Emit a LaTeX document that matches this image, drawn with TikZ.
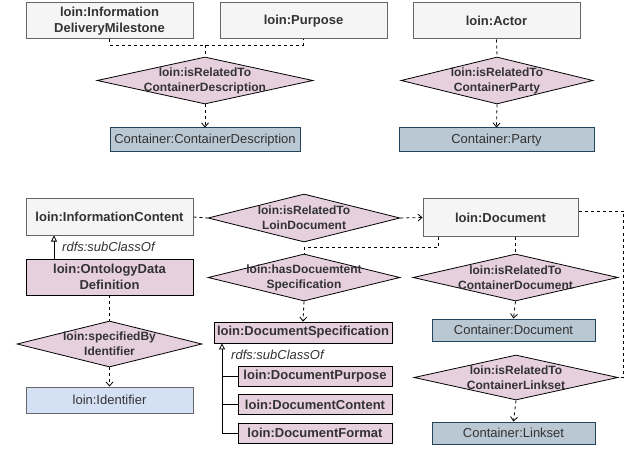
\documentclass[tikz,border=0pt]{standalone}
\usepackage{fontspec}
\setmainfont{Liberation Sans}
\usetikzlibrary{shapes.geometric,arrows.meta}
\definecolor{grayfill}{HTML}{F5F5F5}
\definecolor{graydraw}{HTML}{666666}
\definecolor{pinkfill}{HTML}{E6D0DE}
\definecolor{bluefill}{HTML}{BAC8D3}
\definecolor{bluedraw}{HTML}{23445D}
\definecolor{lbluefill}{HTML}{D4E1F5}
\definecolor{txt}{HTML}{333333}
\begin{document}
\begin{tikzpicture}[x=1pt,y=-1pt,
 base/.style={rectangle, inner sep=0pt, align=center, text=txt, font=\fontsize{13}{15}\selectfont},
 graybox/.style={base, fill=grayfill, draw=graydraw, line width=1pt, font=\fontsize{13}{16}\selectfont\bfseries},
 pinkbox/.style={base, fill=pinkfill, draw=black, line width=0.8pt, font=\fontsize{13}{16}\selectfont\bfseries},
 contbox/.style={base, fill=bluefill, draw=bluedraw, line width=1pt},
 idbox/.style={base, fill=lbluefill, draw=graydraw, line width=1pt},
 dia/.style={diamond, inner sep=0pt, fill=pinkfill, draw=black, line width=0.8pt},
 diatext/.style={inner sep=0pt, align=center, text=txt, font=\fontsize{12}{15}\selectfont\bfseries},
 rel/.style={draw=black, line width=0.8pt, dash pattern=on 3pt off 3pt},
 relarrow/.style={rel, -{Straight Barb[length=4pt,width=7pt]}},
 sub/.style={draw=black, line width=0.8pt},
 subarrow/.style={sub, -{Triangle[open,length=6pt,width=6pt]}},
 lbl/.style={inner sep=0pt, anchor=west, font=\fontsize{13}{15}\selectfont\itshape, text=txt}
]
\useasboundingbox (0,0) rectangle (629,449);

% ---- top row boxes
\node[graybox, minimum width=167pt, minimum height=36pt] (idm) at (109.5,21) {loin:Information\\DeliveryMilestone};
\node[graybox, minimum width=167pt, minimum height=36pt] (purpose) at (303.5,21) {loin:Purpose};
\node[graybox, minimum width=167pt, minimum height=36pt] (actor) at (496.5,21) {loin:Actor};

% ---- top diamonds
\node[dia, minimum width=216pt, minimum height=47pt] (d1) at (205,80.5) {};
\node[diatext] (d1t) at (d1.center) {loin:isRelatedTo\\ContainerDescription};
\node[dia, minimum width=192pt, minimum height=47pt] (d2) at (497,80.5) {};
\node[diatext] (d2t) at (d2.center) {loin:isRelatedTo\\ContainerParty};

% ---- container boxes top
\node[contbox, minimum width=190pt, minimum height=24pt] (ccd) at (205,140) {Container:ContainerDescription};
\node[contbox, minimum width=195pt, minimum height=24pt] (cparty) at (496.5,140) {Container:Party};

% ---- second part boxes
\node[graybox, minimum width=167pt, minimum height=36pt] (ic) at (109.5,217) {loin:InformationContent};
\node[graybox, minimum width=155pt, minimum height=37pt] (doc) at (500.5,217.5) {loin:Document};
\node[pinkbox, minimum width=167pt, minimum height=36pt] (odd) at (109.5,277) {loin:OntologyData\\Definition};
\node[idbox, minimum width=167pt, minimum height=26pt] (ident) at (109.5,400) {loin:Identifier};

\node[dia, minimum width=192pt, minimum height=48pt] (d3) at (304,218) {};
\node[diatext] (d3t) at (d3.center) {loin:isRelatedTo\\LoinDocument};
\node[dia, minimum width=192pt, minimum height=47pt] (d4) at (304,277.5) {};
\node[diatext] (d4t) at (d4.center) {loin:hasDocuemtent\\Specification};
\node[dia, minimum width=205pt, minimum height=47pt] (d5) at (515.5,277.5) {};
\node[diatext] (d5t) at (d5.center) {loin:isRelatedTo\\ContainerDocument};
\node[dia, minimum width=185pt, minimum height=46pt] (d6) at (109.5,344) {};
\node[diatext] (d6t) at (d6.center) {loin:specifiedBy\\Identifier};
\node[dia, minimum width=204pt, minimum height=45pt] (d7) at (516,377.5) {};
\node[diatext] (d7t) at (d7.center) {loin:isRelatedTo\\ContainerLinkset};

\node[pinkbox, minimum width=178pt, minimum height=21pt] (dspec) at (303,332.5) {loin:DocumentSpecification};
\node[pinkbox, minimum width=154pt, minimum height=20pt] (dpurp) at (315,376) {loin:DocumentPurpose};
\node[pinkbox, minimum width=154pt, minimum height=20pt] (dcont) at (315,404.5) {loin:DocumentContent};
\node[pinkbox, minimum width=154pt, minimum height=20pt] (dform) at (315,433) {loin:DocumentFormat};

\node[contbox, minimum width=163pt, minimum height=22pt] (cdoc) at (513.5,330) {Container:Document};
\node[contbox, minimum width=163pt, minimum height=22pt] (clink) at (513.5,433) {Container:Linkset};

% ---- top connectors
\coordinate (j1) at (205,45);
\draw[rel] (idm.south) |- (j1) -| (purpose.south);
\draw[rel] (j1) -- (d1.north);
\draw[relarrow] (d1.south) -- (ccd.north);
\draw[rel] (actor.south) -- (d2.north);
\draw[relarrow] (d2.south) -- (cparty.north);

% ---- lower connectors
\draw[rel] (ic.east) -- (d3.west);
\draw[relarrow] (d3.east) -- (doc.west);
\draw[subarrow] (odd.north -| 54,0) -- (ic.south -| 54,0);
\node[lbl] (lbl1) at (62,247) {rdfs:subClassOf};

\coordinate (j2) at (438,247.5);
\draw[rel] (doc.south -| j2) -- (j2) -| (d4.north);
\draw[relarrow] (d4.south) -- (dspec.north);

\draw[rel] (doc.south -| d5.north) -- (d5.north);
\draw[relarrow] (d5.south) -- (cdoc.north);

\coordinate (j3) at (623,211);
\draw[rel] (doc.east |- j3) -- (j3) |- (d7.east);
\draw[relarrow] (d7.south) -- (clink.north);

\draw[rel] (odd.south) -- (d6.north);
\draw[relarrow] (d6.south) -- (ident.north);

\coordinate (j4) at (222,433);
\draw[subarrow] (j4) -- (dspec.south -| j4);
\draw[sub] (dpurp.west -| j4) -- (dpurp.west);
\draw[sub] (dcont.west -| j4) -- (dcont.west);
\draw[sub] (j4) -- (dform.west);
\node[lbl] (lbl2) at (231,355) {rdfs:subClassOf};
\end{tikzpicture}
\end{document}
